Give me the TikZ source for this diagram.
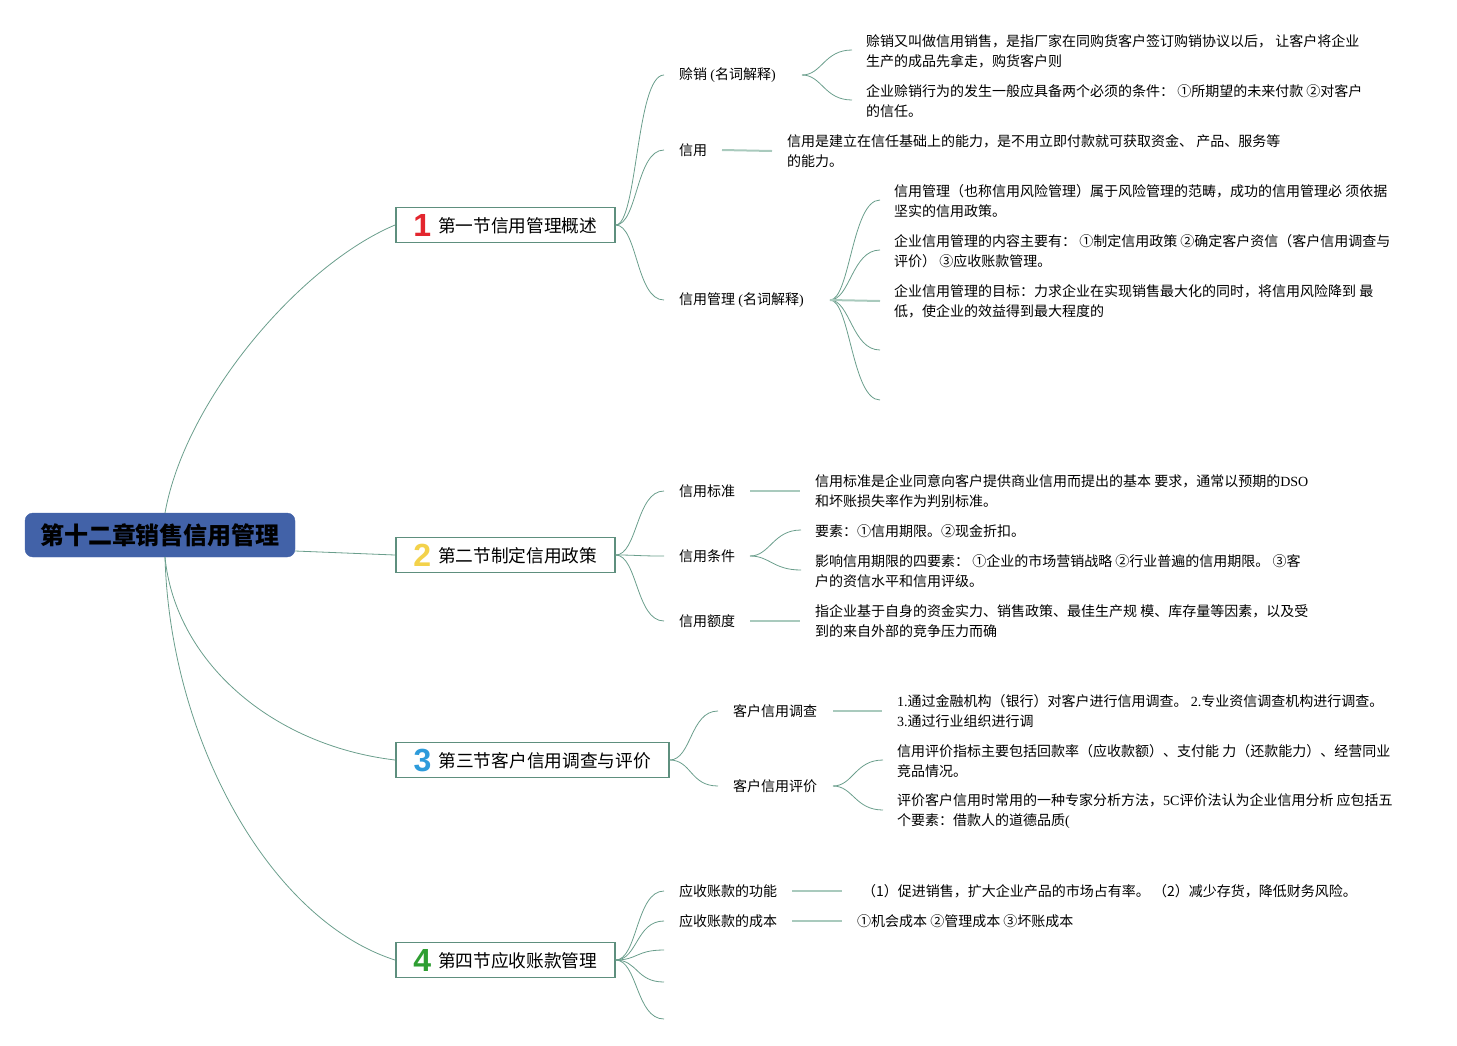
\documentclass[tikz,border=0pt]{standalone}
\usepackage{fontspec}
\setmainfont{Noto Sans CJK SC}
\newfontfamily\lat{Liberation Serif}
\newfontfamily\numf{Liberation Sans}
\usetikzlibrary{calc}
\definecolor{branch}{HTML}{6A9E8C}
\definecolor{stub}{HTML}{A9CABD}
\definecolor{boxline}{HTML}{5E8F7E}
\definecolor{rootfill}{HTML}{4262A8}
\definecolor{numred}{HTML}{E3262E}
\definecolor{numyellow}{HTML}{F3D24B}
\definecolor{numblue}{HTML}{2D9BDB}
\definecolor{numgreen}{HTML}{2E9E32}
\newcommand{\secnum}[2]{\raisebox{-4pt}{\textcolor{#1}{\numf\bfseries\fontsize{32}{32}\selectfont #2}}\hspace{7pt}}
\begin{document}
\begin{tikzpicture}[x=1pt,y=-1pt,
  rootbox/.style={rounded corners=8pt, fill=rootfill, draw=rootfill, minimum width=270pt, minimum height=44pt, inner sep=0pt, font=\fontsize{24}{24}\selectfont\bfseries, text=black},
  secbox/.style={draw=boxline, line width=1.6pt, fill=white, minimum height=35pt, inner sep=0pt, font=\fontsize{17.7}{18}\selectfont, anchor=west},
  lbl/.style={anchor=west, inner sep=0pt, font=\fontsize{14}{20}\selectfont},
  txt/.style={anchor=west, inner sep=0pt, align=left, font=\fontsize{14}{20}\selectfont},
  link/.style={draw=branch, line width=0.8pt},
  stubline/.style={draw=stub, line width=2pt},
]
\useasboundingbox (0,0) rectangle (1457,1045);

% root
\node[rootbox] (root) at (160,535) {第十二章销售信用管理};
\coordinate (rtop) at (165,513);
\coordinate (rbot) at (165,557);
\coordinate (rright) at (295,551);

% sections
\node[secbox, minimum width=219pt] (s1) at (395,225) {\secnum{numred}{1}第一节信用管理概述};
\node[secbox, minimum width=219pt] (s2) at (395,555) {\secnum{numyellow}{2}第二节制定信用政策};
\node[secbox, minimum width=273pt] (s3) at (395,760) {\secnum{numblue}{3}第三节客户信用调查与评价};
\node[secbox, minimum width=219pt] (s4) at (395,960) {\secnum{numgreen}{4}第四节应收账款管理};

\draw[link] (rtop) .. controls (185,400) and (300,265) .. (s1.west);
\draw[link] (rright) -- (s2.west);
\draw[link] (rbot) .. controls (175,660) and (270,745) .. (s3.west);
\draw[link] (rbot) .. controls (170,740) and (270,920) .. (s4.west);

% level-2 labels
\node[lbl] (l11) at (679,75) {赊销 {\lat (}名词解释{\lat )}};
\node[lbl] (l12) at (679,150) {信用};
\node[lbl] (l13) at (679,300) {信用管理 {\lat (}名词解释{\lat )}};
\node[lbl] (l21) at (679,491) {信用标准};
\node[lbl] (l22) at (679,556) {信用条件};
\node[lbl] (l23) at (679,621) {信用额度};
\node[lbl] (l31) at (733,711) {客户信用调查};
\node[lbl] (l32) at (733,786) {客户信用评价};
\node[lbl] (l41) at (679,891) {应收账款的功能};
\node[lbl] (l42) at (679,921) {应收账款的成本};

\foreach \p/\c in {s1/l11, s1/l12, s1/l13, s2/l21, s2/l22, s2/l23, s3/l31, s3/l32, s4/l41, s4/l42}
  \draw[link] (\p.east) .. controls +(22,0) and +(-28,0) .. ([xshift=-15pt]\c.west);
\coordinate (e43) at (664,950);
\coordinate (e44) at (664,982);
\coordinate (e45) at (664,1019);
\foreach \c in {e43, e44, e45}
  \draw[link] (s4.east) .. controls +(22,0) and +(-28,0) .. (\c);

% level-3 texts
\node[txt] (t11) at (866,51) {赊销又叫做信用销售，是指厂家在同购货客户签订购销协议以后， 让客户将企业\\生产的成品先拿走，购货客户则};
\node[txt] (t12) at (866,101) {企业赊销行为的发生一般应具备两个必须的条件： ①所期望的未来付款 ②对客户\\的信任。};
\node[txt] (t121) at (787,151) {信用是建立在信任基础上的能力，是不用立即付款就可获取资金、 产品、服务等\\的能力。};
\node[txt] (t131) at (894,201) {信用管理（也称信用风险管理）属于风险管理的范畴，成功的信用管理必 须依据\\坚实的信用政策。};
\node[txt] (t132) at (894,251) {企业信用管理的内容主要有： ①制定信用政策 ②确定客户资信（客户信用调查与\\评价） ③应收账款管理。};
\node[txt] (t133) at (894,301) {企业信用管理的目标：力求企业在实现销售最大化的同时，将信用风险降到 最\\低，使企业的效益得到最大程度的};
\node[txt] (t21) at (815,491) {信用标准是企业同意向客户提供商业信用而提出的基本 要求，通常以预期的{\lat DSO}\\和坏账损失率作为判别标准。};
\node[txt] (t221) at (815,531) {要素：①信用期限。②现金折扣。};
\node[txt] (t222) at (815,571) {影响信用期限的四要素： ①企业的市场营销战略 ②行业普遍的信用期限。 ③客\\户的资信水平和信用评级。};
\node[txt] (t23) at (815,621) {指企业基于自身的资金实力、销售政策、最佳生产规 模、库存量等因素，以及受\\到的来自外部的竞争压力而确};
\node[txt] (t31) at (897,711) {{\lat 1.}通过金融机构（银行）对客户进行信用调查。 {\lat 2.}专业资信调查机构进行调查。\\{\lat 3.}通过行业组织进行调};
\node[txt] (t321) at (897,761) {信用评价指标主要包括回款率（应收款额）、支付能 力（还款能力）、经营同业\\竞品情况。};
\node[txt] (t322) at (897,811) {评价客户信用时常用的一种专家分析方法，{\lat 5C}评价法认为企业信用分析 应包括五\\个要素：借款人的道德品质{\lat (}};
\node[txt] (t41) at (862,891) {（1）促进销售，扩大企业产品的市场占有率。 （2）减少存货，降低财务风险。};
\node[txt] (t42) at (857,921) {①机会成本 ②管理成本 ③坏账成本};

% forks and stubs
\coordinate (f11) at (802,75);
\coordinate (f13) at (830,300);
\coordinate (f22) at (750,556);
\coordinate (f32) at (833,786);
\coordinate (b12) at (722,150);
\coordinate (b21) at (750,491);
\coordinate (b23) at (750,621);
\coordinate (b31) at (833,711);
\coordinate (b41) at (792,891);
\coordinate (b42) at (792,921);
\coordinate (e134) at (880,350);
\coordinate (e135) at (880,400);

\foreach \f/\t in {f11/t11, f11/t12, f13/t131, f13/t132, f22/t221, f22/t222, f32/t321, f32/t322}
  \draw[link] (\f) .. controls +(20,0) and +(-28,0) .. ([shift={(-14pt,1pt)}]\t.west);
\foreach \c in {e134, e135}
  \draw[link] (f13) .. controls +(20,0) and +(-28,0) .. (\c);
\draw[stubline] (f13) -- ([xshift=-14pt]t133.west);
\foreach \b/\t in {b12/t121, b21/t21, b23/t23, b31/t31}
  \draw[stubline] (\b) -- ([xshift=-15pt]\t.west);
\draw[stubline] (b41) -- ++(50,0) coordinate (b41e);
\draw[stubline] (b42) -- ++(50,0) coordinate (b42e);
\end{tikzpicture}
\end{document}
